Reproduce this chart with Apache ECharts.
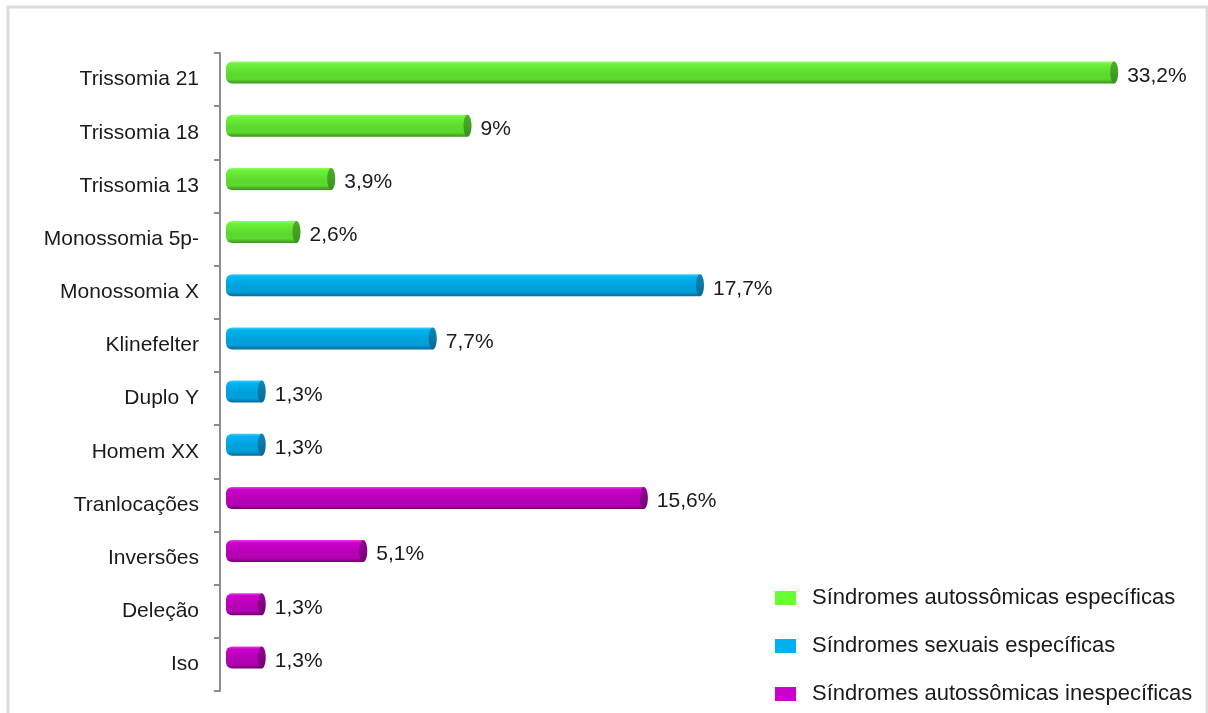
<!DOCTYPE html>
<html>
<head>
<meta charset="utf-8">
<script src="https://cdn.jsdelivr.net/npm/echarts@6/dist/echarts.min.js"></script>
<style>
html,body{margin:0;padding:0;background:#fff;}
#chart{width:1208px;height:713px;}
</style>
</head>
<body>
<div id="chart"></div>
<script>
const categories = ['Trissomia 21','Trissomia 18','Trissomia 13','Monossomia 5p-','Monossomia X','Klinefelter','Duplo Y','Homem XX','Tranlocações','Inversões','Deleção','Iso'];
const autossomicasEspecificas = [33.2, 9, 3.9, 2.6, null, null, null, null, null, null, null, null];
const sexuaisEspecificas = [null, null, null, null, 17.7, 7.7, 1.3, 1.3, null, null, null, null];
const autossomicasInespecificas = [null, null, null, null, null, null, null, null, 15.6, 5.1, 1.3, 1.3];
const seriesNames = ['Síndromes autossômicas específicas','Síndromes sexuais específicas','Síndromes autossômicas inespecíficas'];

const palettes = [
  {legend:'#66ff33', top:'#8dff5e', mid:'#6cf23a', low:'#5cd92e', bottom:'#3a921f', cap:'#4cae28'},
  {legend:'#00b0f0', top:'#40ccff', mid:'#00b4f0', low:'#00a0da', bottom:'#0a6a96', cap:'#0b86b8'},
  {legend:'#cc00cc', top:'#e640e6', mid:'#cc00cc', low:'#b600b6', bottom:'#720072', cap:'#990099'}
];

function toData(arr){
  return arr.map((v,i)=> v==null ? null : [v,i]).filter(d=>d);
}
function fmt(v){ return String(v).replace('.', ',') + '%'; }

function makeRender(p){
  return function(params, api){
    const v = api.value(0), c = api.value(1);
    const p0 = api.coord([0, c]);
    const p1 = api.coord([v, c]);
    const h = 22;
    const cy = p0[1] - 7;
    const y = cy - h/2;
    const x0 = p0[0] - 5;
    const xe = p1[0] - 4;
    return {
      type:'group',
      children:[
        {type:'rect', shape:{x:x0, y:y, width:xe-x0, height:h, r:[6,0,0,6]},
         style:{fill:new echarts.graphic.LinearGradient(0,0,0,1,[
           {offset:0,color:p.top},{offset:0.12,color:p.mid},{offset:0.55,color:p.low},{offset:0.8,color:p.low},{offset:1,color:p.bottom}])}},
        {type:'ellipse', shape:{cx:xe, cy:cy, rx:4, ry:h/2},
         style:{fill:new echarts.graphic.LinearGradient(0,0,0,1,[
           {offset:0,color:p.cap},{offset:1,color:p.bottom}])}},
        {type:'text', x:p1[0]+9, y:cy+3.5,
         style:{text:fmt(v), fill:'#1a1a1a', font:'21px "Liberation Sans", Arial, sans-serif', verticalAlign:'middle', align:'left'}}
      ]
    };
  };
}

const dataSets = [autossomicasEspecificas, sexuaisEspecificas, autossomicasInespecificas];
const series = dataSets.map((arr,i)=>({
  name: seriesNames[i],
  type:'custom',
  renderItem: makeRender(palettes[i]),
  encode:{x:0, y:1},
  itemStyle:{color:palettes[i].legend},
  data: toData(arr),
  clip:false
}));

const chart = echarts.init(document.getElementById('chart'));
chart.setOption({
  animation:false,
  backgroundColor:'#fff',
  graphic:[{type:'rect', shape:{x:8, y:7, width:1199, height:720}, style:{fill:'none', stroke:'#dcdcdc', lineWidth:3}, z:-1}],
  grid:{left:231, right:15, top:53, bottom:22},
  xAxis:{type:'value', min:0, max:36, show:false},
  yAxis:{type:'category', data:categories, inverse:true, offset:11,
    axisLine:{show:true, onZero:false, lineStyle:{color:'#8c8c8c', width:2}},
    axisTick:{show:true, length:6, lineStyle:{color:'#8c8c8c', width:2}},
    axisLabel:{color:'#1a1a1a', fontSize:21, fontFamily:'"Liberation Sans", Arial, sans-serif', margin:21}
  },
  legend:{orient:'vertical', left:770, top:582, itemWidth:21, itemHeight:14, itemGap:26,
    icon:'rect', textStyle:{color:'#1a1a1a', fontSize:22, fontFamily:'"Liberation Sans", Arial, sans-serif', padding:[0,0,0,11]},
    data:seriesNames},
  series: series
});
</script>
</body>
</html>
